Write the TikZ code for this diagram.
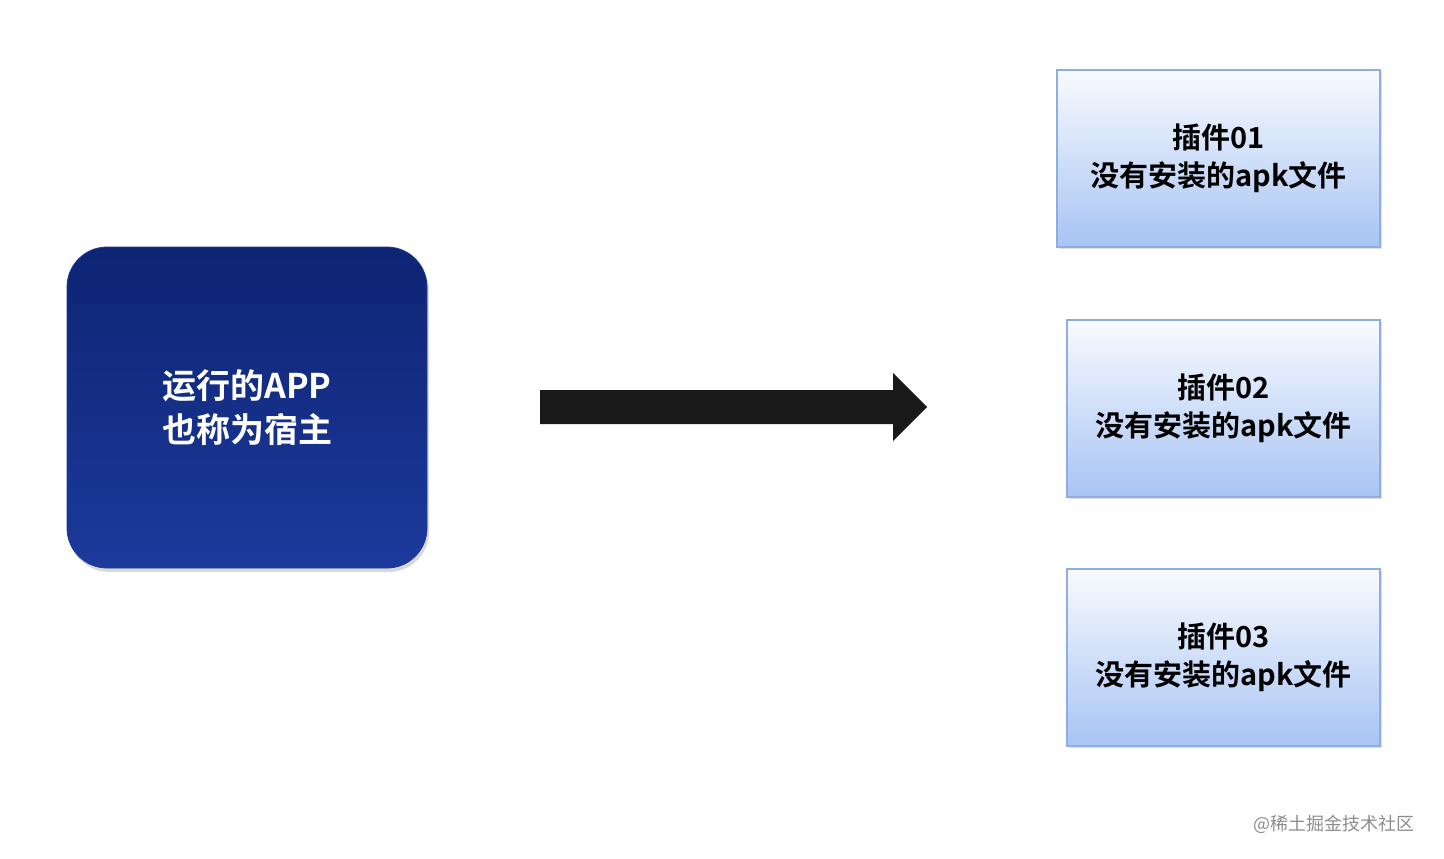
\documentclass[tikz,border=0pt]{standalone}
\usepackage{fontspec}
\setmainfont{Noto Sans CJK SC}
\newfontfamily\cjkb{Noto Sans CJK SC Bold}
\usetikzlibrary{shadows}
\definecolor{hostA}{HTML}{0E2473}
\definecolor{hostB}{HTML}{1C3A9C}
\definecolor{plugB}{HTML}{A8C4F4}
\definecolor{plugD}{HTML}{8EAEDD}
\begin{document}
\begin{tikzpicture}[x=0.5pt,y=-0.5pt,
  host/.style={rounded corners=20pt,top color=hostA,bottom color=hostB,draw=hostB,
    drop shadow={shadow xshift=1pt,shadow yshift=-2pt,opacity=0.3},
    text=white,font=\cjkb\fontsize{17}{22}\selectfont,align=center,
    minimum width=180pt,minimum height=160.5pt},
  plug/.style={top color=white!92!plugB,bottom color=plugB,draw=plugD,line width=0.8pt,
    drop shadow={shadow xshift=1pt,shadow yshift=-1pt,opacity=0.25},
    font=\cjkb\fontsize{14.5}{19}\selectfont,align=center,minimum height=88.5pt}]
\useasboundingbox (0,0) rectangle (1444,858);
\node[host] (h) at (247,407.5) {运行的APP\\也称为宿主};
\node[plug,minimum width=161.5pt] (p1) at (1218.5,158.5) {插件01\\没有安装的apk文件};
\node[plug,minimum width=156.5pt] (p2) at (1223.5,408.5) {插件02\\没有安装的apk文件};
\node[plug,minimum width=156.5pt] (p3) at (1223.5,657.5) {插件03\\没有安装的apk文件};
\coordinate (a1) at (540,407);
\fill[black!90] (540,390) -- (893,390) -- (893,373) -- (927,407) -- (893,441) -- (893,424) -- (540,424) -- cycle;
\node[text=black!45,font=\fontsize{9}{11}\selectfont,anchor=east] (wm) at (1422,824) {@稀土掘金技术社区};
\end{tikzpicture}
\end{document}
